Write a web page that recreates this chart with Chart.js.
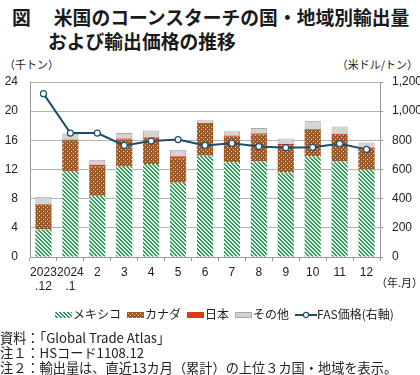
<!DOCTYPE html>
<html>
<head>
<meta charset="utf-8">
<script src="https://cdn.jsdelivr.net/npm/chart.js@4"></script>
<style>
body{margin:0;width:420px;height:375px;position:relative;background:#fff;font-family:"Liberation Sans","Noto Sans CJK JP",sans-serif;color:#222;overflow:hidden}
.title{position:absolute;left:12px;font-family:"Noto Sans CJK JP";font-weight:bold;font-size:18.8px;line-height:22px;white-space:nowrap;color:#1a1a1a}
.unit{position:absolute;top:56px;font-family:"Noto Sans CJK JP";font-size:11px}
#wrap{position:absolute;left:0;top:60px;width:420px;height:250px}
.legend{position:absolute;top:305px;left:55px;font-family:"Noto Sans CJK JP";font-size:12px;white-space:nowrap}
.legend span.item{margin-right:6px}
.sw{display:inline-block;width:17px;height:6px;vertical-align:middle;margin-right:1px;position:relative;top:-1px}
.notes{position:absolute;left:0;top:330px;font-family:"Noto Sans CJK JP";font-size:13.2px;line-height:15px;white-space:nowrap}
</style>
</head>
<body>
<div class="title" style="top:6px">図　 米国のコーンスターチの国・地域別輸出量</div>
<div class="title" style="top:30px;left:48px">および輸出価格の推移</div>
<div class="unit" style="left:4px">（千トン）</div>
<div class="unit" style="right:2px">（米ドル/トン）</div>
<div id="wrap"><canvas id="chart"></canvas></div>
<div class="unit" style="top:274px;left:376px">（年.月）</div>
<div class="legend" id="legend"></div>
<div class="notes">資料：「Global Trade Atlas」<br>注１：HSコード1108.12<br>注２：輸出量は、直近13カ月（累計）の上位３カ国・地域を表示。</div>
<script>
const labels = [['2023', '.12'], ['2024', '.1'], '2', '3', '4', '5', '6', '7', '8', '9', '10', '11', '12'];
const mexico = [3.8, 11.75, 8.4, 12.4, 12.75, 10.2, 13.9, 13.0, 13.1, 11.6, 13.8, 13.1, 12.0];
const canada = [3.4, 4.25, 4.0, 3.7, 3.45, 3.3, 4.35, 3.5, 3.7, 3.75, 3.65, 3.65, 2.8];
const japan = [0.05, 0.1, 0.25, 0.15, 0.2, 0.3, 0.15, 0.15, 0.15, 0.15, 0.1, 0.15, 0.2];
const other = [1.0, 0.8, 0.7, 0.75, 0.95, 0.9, 0.35, 0.6, 0.75, 0.75, 1.15, 1.0, 0.7];
const fasPrice = [1120, 850, 850, 765, 795, 805, 765, 780, 757, 750, 752, 777, 738];

function makePattern(kind){
    const c = document.createElement('canvas');
    c.width = 4; c.height = 4;
    const g = c.getContext('2d');
    if(kind == 'hatch'){
        g.fillStyle = '#e8f5ec';
        g.fillRect(0, 0, 4, 4);
        g.fillStyle = '#2f9a5c';
        for(let i = 0; i < 4; i++){
            g.fillRect(i, i, 1, 1);
            g.fillRect((i + 1) % 4, i, 1, 1);
        }
    } else {
        g.fillStyle = '#9b5a28';
        g.fillRect(0, 0, 4, 4);
        g.fillStyle = '#f0d6b8';
        g.fillRect(1, 1, 1, 1);
        g.fillRect(3, 3, 1, 1);
    }
    return {pattern: g.createPattern(c, 'repeat'), url: c.toDataURL()};
}

const hatch = makePattern('hatch');
const dots = makePattern('dots');

// legend drawn as html
const legendItems = [
    {name: 'メキシコ', css: 'background:url(' + hatch.url + ')'},
    {name: 'カナダ', css: 'background:url(' + dots.url + ')'},
    {name: '日本', css: 'background:#e2361c'},
    {name: 'その他', css: 'background:#d4d4d4;box-sizing:border-box;border:1px solid #a8a8a8'}
];
let html = '';
legendItems.forEach(function(it){
    html += '<span class="item"><span class="sw" style="' + it.css + '"></span>' + it.name + '</span>';
});
html += '<span><svg width="22" height="8" style="vertical-align:middle;position:relative;top:-1px"><line x1="0" y1="4" x2="22" y2="4" stroke="#1d4d6b" stroke-width="2"/><circle cx="11" cy="4" r="2.7" fill="#fff" stroke="#1d4d6b" stroke-width="1.2"/></svg>FAS価格(右軸)</span>';
document.getElementById('legend').innerHTML = html;

const tickFont = {family: 'Liberation Sans', size: 12};

const ctx = document.getElementById('chart').getContext('2d');
const chart = new Chart(ctx, {
    type: 'bar',
    data: {
        labels: labels,
        datasets: [{
            type: 'line',
            label: 'FAS価格（右軸）',
            data: fasPrice,
            yAxisID: 'y1',
            borderColor: '#1d4d6b',
            borderWidth: 2,
            pointRadius: 3,
            pointBackgroundColor: '#fff',
            pointBorderColor: '#1d4d6b',
            pointBorderWidth: 1.2,
            order: 0
        }, {
            label: 'メキシコ',
            data: mexico,
            backgroundColor: hatch.pattern,
            order: 1
        }, {
            label: 'カナダ',
            data: canada,
            backgroundColor: dots.pattern,
            order: 1
        }, {
            label: '日本',
            data: japan,
            backgroundColor: '#e2361c',
            order: 1
        }, {
            label: 'その他',
            data: other,
            backgroundColor: '#d4d4d4',
            borderColor: '#a8a8a8',
            borderWidth: 1,
            order: 1
        }]
    },
    options: {
        responsive: true,
        maintainAspectRatio: false,
        animation: false,
        datasets: {bar: {categoryPercentage: 1, barPercentage: 0.6, stack: 's'}},
        layout: {padding: {top: 22}},
        plugins: {legend: {display: false}, tooltip: {enabled: false}},
        scales: {
            x: {
                stacked: true,
                grid: {display: true, drawOnChartArea: false, drawTicks: true, tickLength: 4, color: '#999'},
                border: {color: '#999'},
                ticks: {color: '#222', font: tickFont, padding: 4, maxRotation: 0, autoSkip: false},
                afterFit: function(s){ s.height = 53; }
            },
            y: {
                stacked: true,
                min: 0, max: 24,
                ticks: {stepSize: 4, color: '#222', font: tickFont, padding: 12},
                grid: {color: '#b3b3b3', drawTicks: false},
                border: {color: '#999'},
                afterFit: function(s){ s.width = 30; }
            },
            y1: {
                position: 'right',
                min: 0, max: 1200,
                ticks: {stepSize: 200, color: '#222', font: tickFont, padding: 9,
                    callback: function(v){ return v.toLocaleString('en-US'); }},
                grid: {drawOnChartArea: false, drawTicks: true, tickLength: 3, color: '#999'},
                border: {color: '#999'},
                afterFit: function(s){ s.width = 40; }
            }
        }
    }
});
</script>
</body>
</html>
